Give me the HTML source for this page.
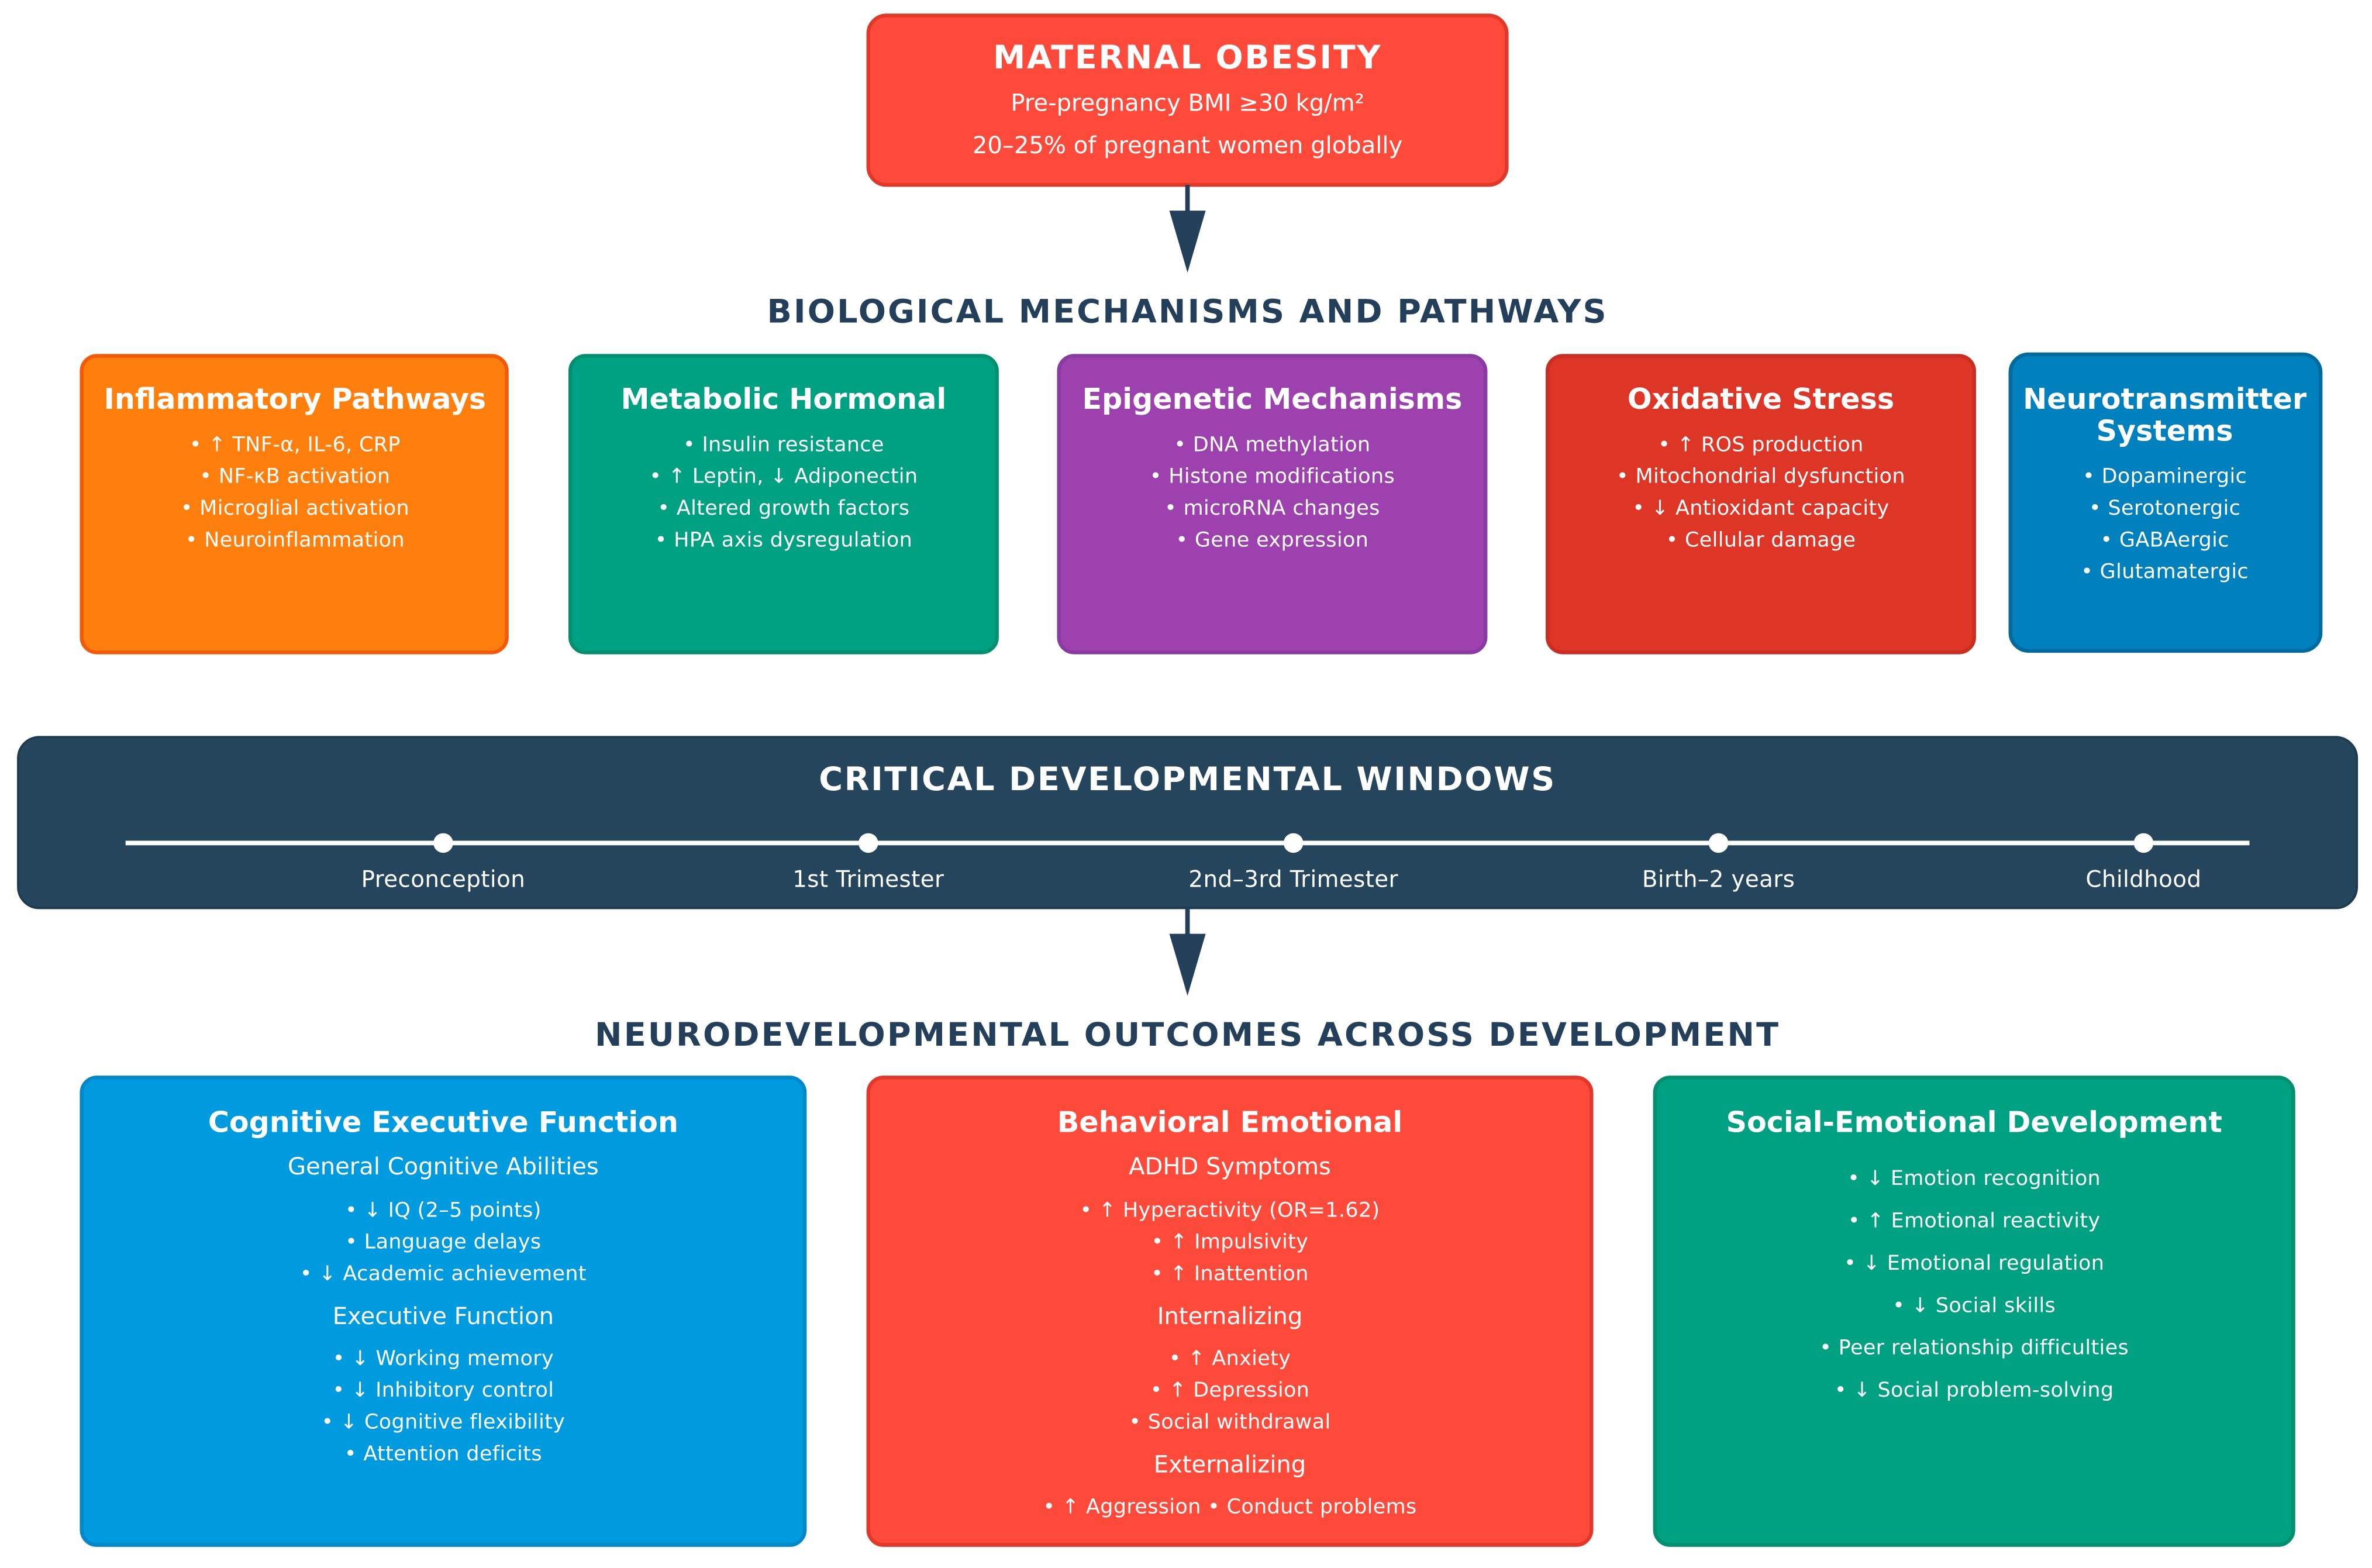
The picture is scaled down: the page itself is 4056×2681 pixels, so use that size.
<!DOCTYPE html>
<html><head><meta charset="utf-8"><style>
html,body{margin:0;padding:0;background:#fff;}
svg{display:block;}
text{font-family:"DejaVu Sans","Liberation Sans",sans-serif;fill:#fff;text-anchor:middle;}
.t{font-weight:bold;font-size:19px;}
.i{font-size:13.5px;letter-spacing:0.15px;}
.s{font-size:15.5px;}
.h{font-weight:bold;font-size:21.5px;fill:#243f5a;letter-spacing:1.2px;}
</style></head><body>
<svg width="4056" height="2681" viewBox="0 0 1568 1036" xmlns="http://www.w3.org/2000/svg">
<rect width="1568" height="1036" fill="#fff"/>
<rect x="574" y="10" width="422" height="112" rx="12" fill="#fe4a3b" stroke="#e0382a" stroke-width="2.5"/>
<text x="785" y="45" style="font-weight:bold;font-size:21.5px;letter-spacing:1px">MATERNAL OBESITY</text>
<text x="785" y="73" class="s">Pre-pregnancy BMI ≥30 kg/m²</text>
<text x="785" y="101" class="s">20–25% of pregnant women globally</text>
<line x1="785" y1="122" x2="785" y2="145" stroke="#243f5a" stroke-width="3"/>
<polygon points="773,139 797,139 785,180" fill="#243f5a"/>
<text x="785" y="213" class="h">BIOLOGICAL MECHANISMS AND PATHWAYS</text>

<rect x="54" y="235" width="281" height="196" rx="10" fill="#ff7f0e" stroke="#f25a0a" stroke-width="2.5"/>
<text x="195" y="270" class="t">Inflammatory Pathways</text>
<text x="195" y="298" class="i">• ↑ TNF-α, IL-6, CRP</text>
<text x="195" y="319" class="i">• NF-κB activation</text>
<text x="195" y="340" class="i">• Microglial activation</text>
<text x="195" y="361" class="i">• Neuroinflammation</text>

<rect x="377" y="235" width="282" height="196" rx="10" fill="#00a183" stroke="#00906f" stroke-width="2.5"/>
<text x="518" y="270" class="t">Metabolic Hormonal</text>
<text x="518" y="298" class="i">• Insulin resistance</text>
<text x="518" y="319" class="i">• ↑ Leptin, ↓ Adiponectin</text>
<text x="518" y="340" class="i">• Altered growth factors</text>
<text x="518" y="361" class="i">• HPA axis dysregulation</text>

<rect x="700" y="235" width="282" height="196" rx="10" fill="#9c41ae" stroke="#8a3aa0" stroke-width="2.5"/>
<text x="841" y="270" class="t">Epigenetic Mechanisms</text>
<text x="841" y="298" class="i">• DNA methylation</text>
<text x="841" y="319" class="i">• Histone modifications</text>
<text x="841" y="340" class="i">• microRNA changes</text>
<text x="841" y="361" class="i">• Gene expression</text>

<rect x="1023" y="235" width="282" height="196" rx="10" fill="#dd3526" stroke="#c92e22" stroke-width="2.5"/>
<text x="1164" y="270" class="t">Oxidative Stress</text>
<text x="1164" y="298" class="i">• ↑ ROS production</text>
<text x="1164" y="319" class="i">• Mitochondrial dysfunction</text>
<text x="1164" y="340" class="i">• ↓ Antioxidant capacity</text>
<text x="1164" y="361" class="i">• Cellular damage</text>

<rect x="1329" y="234" width="205" height="196" rx="12" fill="#0080bd" stroke="#006a9c" stroke-width="2.5"/>
<text x="1431" y="270" class="t">Neurotransmitter</text>
<text x="1431" y="291" class="t">Systems</text>
<text x="1431" y="319" class="i">• Dopaminergic</text>
<text x="1431" y="340" class="i">• Serotonergic</text>
<text x="1431" y="361" class="i">• GABAergic</text>
<text x="1431" y="382" class="i">• Glutamatergic</text>

<rect x="12" y="487" width="1546" height="113" rx="14" fill="#24455c" stroke="#1e3a4f" stroke-width="1.5"/>
<text x="785" y="522" style="font-weight:bold;font-size:21.5px;letter-spacing:1px">CRITICAL DEVELOPMENTAL WINDOWS</text>
<line x1="83" y1="557" x2="1487" y2="557" stroke="#fff" stroke-width="3"/>
<circle cx="293" cy="557" r="6.5" fill="#fff"/>
<circle cx="574" cy="557" r="6.5" fill="#fff"/>
<circle cx="855" cy="557" r="6.5" fill="#fff"/>
<circle cx="1136" cy="557" r="6.5" fill="#fff"/>
<circle cx="1417" cy="557" r="6.5" fill="#fff"/>
<text x="293" y="586" class="i" style="font-size:15px">Preconception</text>
<text x="574" y="586" class="i" style="font-size:15px">1st Trimester</text>
<text x="855" y="586" class="i" style="font-size:15px">2nd–3rd Trimester</text>
<text x="1136" y="586" class="i" style="font-size:15px">Birth–2 years</text>
<text x="1417" y="586" class="i" style="font-size:15px">Childhood</text>
<line x1="785" y1="600" x2="785" y2="622" stroke="#243f5a" stroke-width="3"/>
<polygon points="773,617 797,617 785,658" fill="#243f5a"/>
<text x="785" y="691" class="h">NEURODEVELOPMENTAL OUTCOMES ACROSS DEVELOPMENT</text>

<rect x="54" y="712" width="478" height="309" rx="10" fill="#009ade" stroke="#0088c8" stroke-width="2.5"/>
<text x="293" y="748" class="t">Cognitive Executive Function</text>
<text x="293" y="776" class="s">General Cognitive Abilities</text>
<text x="293" y="804" class="i">• ↓ IQ (2–5 points)</text>
<text x="293" y="825" class="i">• Language delays</text>
<text x="293" y="846" class="i">• ↓ Academic achievement</text>
<text x="293" y="875" class="s">Executive Function</text>
<text x="293" y="902" class="i">• ↓ Working memory</text>
<text x="293" y="923" class="i">• ↓ Inhibitory control</text>
<text x="293" y="944" class="i">• ↓ Cognitive flexibility</text>
<text x="293" y="965" class="i">• Attention deficits</text>

<rect x="574" y="712" width="478" height="309" rx="10" fill="#fe4a3b" stroke="#e0382a" stroke-width="2.5"/>
<text x="813" y="748" class="t">Behavioral Emotional</text>
<text x="813" y="776" class="s">ADHD Symptoms</text>
<text x="813" y="804" class="i">• ↑ Hyperactivity (OR=1.62)</text>
<text x="813" y="825" class="i">• ↑ Impulsivity</text>
<text x="813" y="846" class="i">• ↑ Inattention</text>
<text x="813" y="875" class="s">Internalizing</text>
<text x="813" y="902" class="i">• ↑ Anxiety</text>
<text x="813" y="923" class="i">• ↑ Depression</text>
<text x="813" y="944" class="i">• Social withdrawal</text>
<text x="813" y="973" class="s">Externalizing</text>
<text x="813" y="1000" class="i">• ↑ Aggression • Conduct problems</text>

<rect x="1094" y="712" width="422" height="309" rx="10" fill="#00a183" stroke="#00906f" stroke-width="2.5"/>
<text x="1305" y="748" class="t">Social-Emotional Development</text>
<text x="1305" y="783" class="i">• ↓ Emotion recognition</text>
<text x="1305" y="811" class="i">• ↑ Emotional reactivity</text>
<text x="1305" y="839" class="i">• ↓ Emotional regulation</text>
<text x="1305" y="867" class="i">• ↓ Social skills</text>
<text x="1305" y="895" class="i">• Peer relationship difficulties</text>
<text x="1305" y="923" class="i">• ↓ Social problem-solving</text>
</svg>
</body></html>
